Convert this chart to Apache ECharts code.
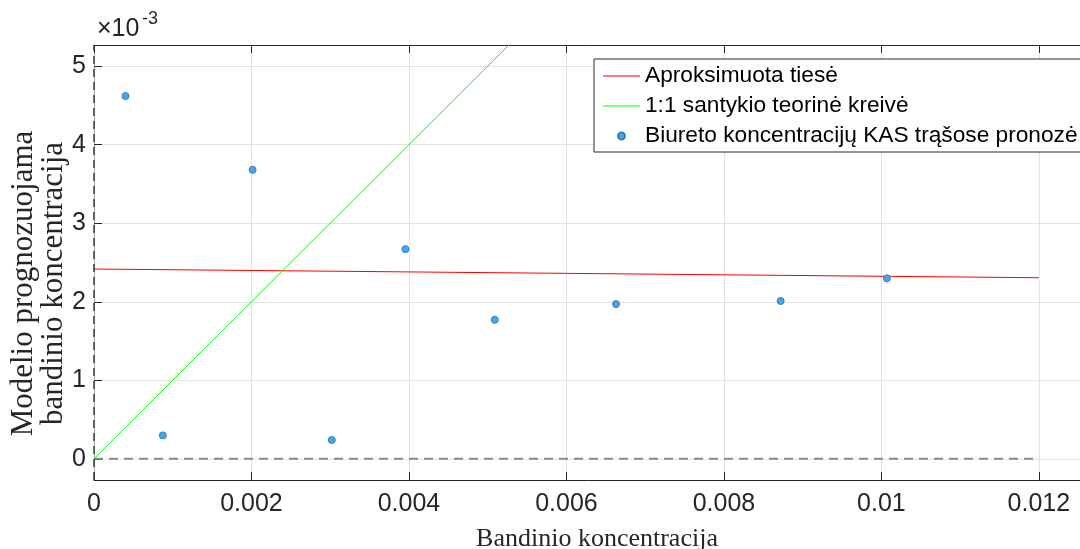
<!DOCTYPE html>
<html><head><meta charset="utf-8">
<script src="https://cdn.jsdelivr.net/npm/echarts@6/dist/echarts.min.js"></script>
<style>html,body{margin:0;padding:0;background:#fff}#c{width:1080px;height:549px}</style>
</head><body><div id="c"></div>
<script>
// ---- data ----
const xTickValues = [0, 0.002, 0.004, 0.006, 0.008, 0.01, 0.012];
const xTickLabels = ['0', '0.002', '0.004', '0.006', '0.008', '0.01', '0.012'];
const yTickValues = [0, 0.001, 0.002, 0.003, 0.004, 0.005];
const yTickLabels = ['0', '1', '2', '3', '4', '5'];
const obsX = [0.00040, 0.000874, 0.002014, 0.00302, 0.003955, 0.00509, 0.00663, 0.00872, 0.01007];
const obsY = [0.00462, 0.000298, 0.00368, 0.00024, 0.00267, 0.00177, 0.00197, 0.00201, 0.002298];
const fitX = [0, 0.012];
const fitY = [0.002417, 0.002306];
const refX = [0, 0.0056];
const refY = [0, 0.0056];
const zeroX = [0, 0.012];
const zeroY = [0, 0];
const names = ['Aproksimuota tiesė', '1:1 santykio teorinė kreivė', 'Biureto koncentracijų KAS trąšose pronozė'];
const xLabel = 'Bandinio koncentracija';
const yLabel = 'Modelio prognozuojama\nbandinio koncentracija';

const zip = (a, b) => a.map((v, i) => [v, b[i]]);
const tickFmt = (vals, labs) => v => {
  for (let i = 0; i < vals.length; i++) if (Math.abs(v - vals[i]) < 1e-9) return labs[i];
  return '';
};
const AX = '#262626';
const SANS = 'Liberation Sans, Arial, sans-serif';
const SERIF = 'Liberation Serif, Times New Roman, serif';
const LINE_ICON = 'path://M0,0M0,3H37V4H0ZM37,7';

const chart = echarts.init(document.getElementById('c'));
chart.setOption({
  animation: false,
  backgroundColor: '#fff',
  grid: { left: 94, right: -14, top: 45, bottom: 69, containLabel: false, outerBoundsMode: 'none' },
  legend: {
    orient: 'vertical', left: 594, top: 59,
    padding: [5, 3, 4, 9], itemGap: 6, itemWidth: 37, itemHeight: 7,
    backgroundColor: '#fff', borderColor: AX, borderWidth: 1, borderRadius: 0,
    textStyle: { fontFamily: SANS, fontSize: 22.7, color: '#000', lineHeight: 24 },
    data: [
      { name: names[0], icon: LINE_ICON },
      { name: names[1], icon: LINE_ICON },
      { name: names[2], icon: 'circle' }
    ]
  },
  xAxis: [{
    type: 'value', min: 0, max: 0.0127, interval: 0.002,
    name: xLabel, nameLocation: 'middle', nameGap: 46, nameMoveOverlap: false,
    nameTextStyle: { fontFamily: SERIF, fontSize: 26, color: AX, padding: [0, 0, 0, 6] },
    axisLine: { show: true, onZero: false, lineStyle: { color: AX, width: 1 } },
    axisTick: { show: true, inside: true, length: 8, lineStyle: { color: AX } },
    axisLabel: { formatter: tickFmt(xTickValues, xTickLabels), fontFamily: SANS, fontSize: 25, color: AX, margin: 12, showMaxLabel: true },
    splitLine: { show: true, lineStyle: { color: '#e3e3e3', width: 1 } }
  }, {
    type: 'value', position: 'top', min: 0, max: 0.0127, interval: 0.002,
    axisLine: { show: true, onZero: false, lineStyle: { color: AX, width: 1 } },
    axisTick: { show: true, inside: true, length: 8, lineStyle: { color: AX } },
    axisLabel: { show: false }, splitLine: { show: false }
  }],
  yAxis: [{
    type: 'value', min: -0.00027, max: 0.00527,
    name: yLabel, nameLocation: 'middle', nameGap: 25, nameRotate: 90, nameMoveOverlap: false,
    nameTextStyle: { fontFamily: SERIF, fontSize: 31, color: AX, lineHeight: 30, padding: [0, 42, 0, 0] },
    axisLine: { show: true, onZero: false, lineStyle: { color: '#aaaaaa', width: 1 } },
    axisTick: { show: true, inside: true, length: 8, lineStyle: { color: AX } },
    axisLabel: { formatter: tickFmt(yTickValues, yTickLabels), fontFamily: SANS, fontSize: 25, color: AX, margin: 8, showMinLabel: true, showMaxLabel: true },
    splitLine: { show: true, lineStyle: { color: '#e3e3e3', width: 1 } }
  }],
  graphic: [
    { type: 'text', left: 97, top: 17, style: { text: '×10', font: '25px ' + SANS, fill: AX } },
    { type: 'text', left: 142, top: 10, style: { text: '-3', font: '18px ' + SANS, fill: AX } }
  ],
  series: [
    {
      name: '_zero', type: 'line', data: zip(zeroX, zeroY), symbol: 'none', silent: true,
      lineStyle: { color: '#8c8c8c', width: 2, type: [9, 6] }, z: 1,
      markLine: {
        silent: true, symbol: 'none', label: { show: false },
        lineStyle: { color: '#3a3a3a', width: 1.5, type: [8, 5] },
        data: [{ xAxis: 0 }]
      }
    },
    {
      name: names[0], type: 'line', data: zip(fitX, fitY), symbol: 'none',
      lineStyle: { color: '#ff0000', width: 1 }, itemStyle: { color: '#ff0000' }, z: 3
    },
    {
      name: names[1], type: 'line', data: zip(refX, refY), symbol: 'none', clip: true,
      lineStyle: { color: '#00ff00', width: 1 }, itemStyle: { color: '#00ff00' }, z: 3
    },
    {
      name: names[2], type: 'scatter', data: zip(obsX, obsY), symbol: 'circle', symbolSize: 7,
      itemStyle: { color: '#4fa3de', borderColor: '#2f80c2', borderWidth: 1, opacity: 1 }, z: 4
    }
  ]
});
</script></body></html>
